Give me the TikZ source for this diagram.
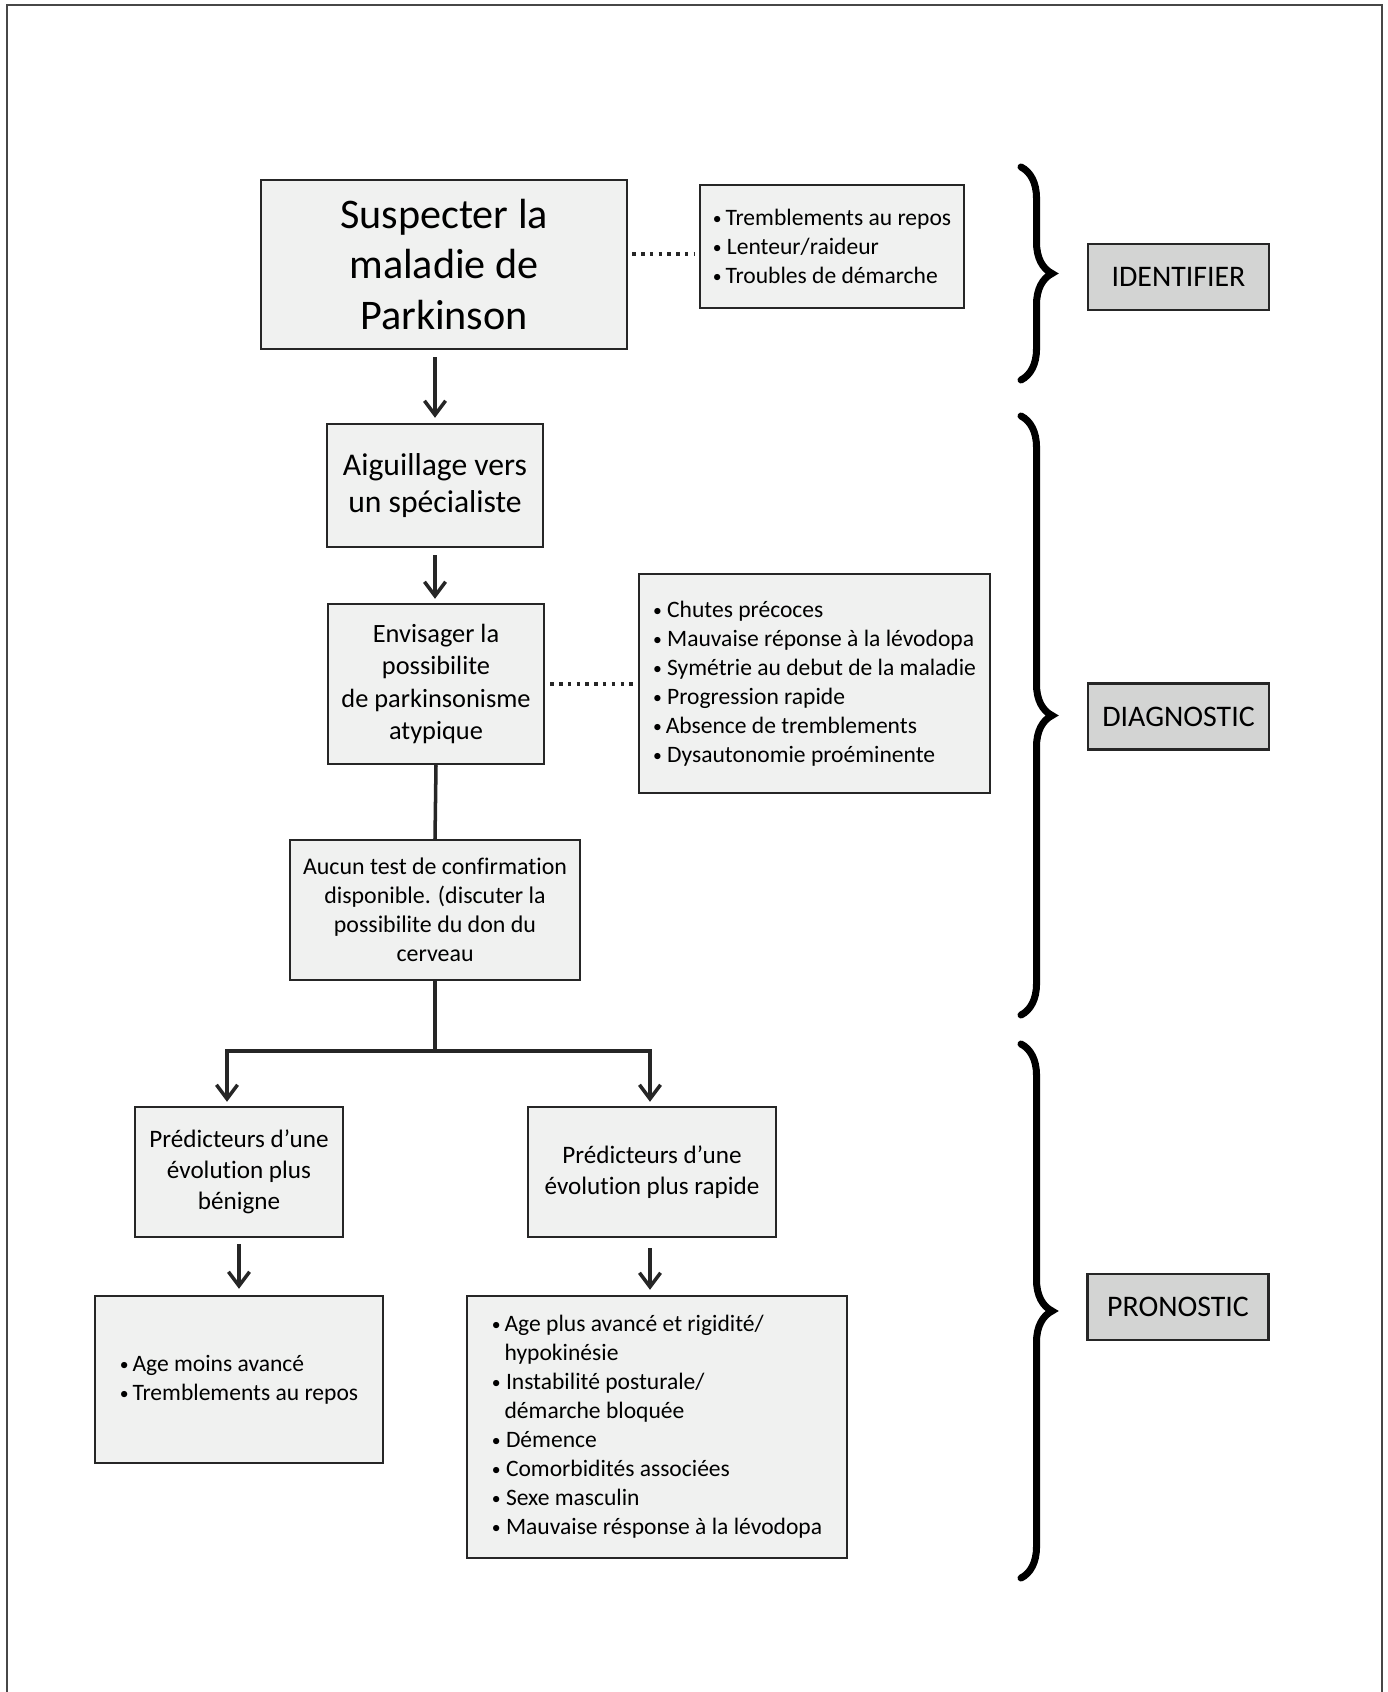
\documentclass[tikz,border=0pt]{standalone}
\usepackage{graphicx}
\usepackage{fontspec}
\setmainfont{Carlito}[Ligatures=NoCommon]
\usetikzlibrary{arrows.meta,positioning,decorations.pathreplacing}
\definecolor{boxgray}{HTML}{F0F1F0}
\definecolor{phasegray}{HTML}{D3D4D3}
\definecolor{edgegray}{HTML}{262626}
\newcommand{\blt}{\raisebox{0.1ex}{\scalebox{0.75}{\textbullet}}}

\begin{document}
\begin{tikzpicture}[
  box/.style={draw=edgegray,line width=1.4pt,fill=boxgray,align=center,inner sep=2pt},
  listbox/.style={box,align=left},
  phase/.style={draw=edgegray,line width=1.2pt,fill=phasegray,minimum width=3.62cm,
                minimum height=1.32cm,font=\fontsize{17}{20}\selectfont},
  arr/.style={-{Straight Barb[length=8pt,width=12pt,line width=2pt]},line width=2pt,edgegray},
  link/.style={line width=2pt,edgegray},
  dots/.style={line width=2pt,dash pattern=on 2pt off 3pt,edgegray},
  brc/.style={decorate,decoration={brace,amplitude=0.62cm},line width=4pt,line cap=round},
  big/.style={font=\fontsize{24}{28.7}\selectfont},
  mid/.style={font=\fontsize{18}{21.4}\selectfont},
  small/.style={font=\fontsize{13.4}{16.5}\selectfont},
]
\useasboundingbox (0,0) rectangle (27.74,-33.84);

%% ===== Frame =================================================================
\draw[line width=1.3pt,edgegray!85] (0.14,-33.84) -- (0.14,-0.10) -- (27.64,-0.10) -- (27.64,-33.84);

%% ===== Identifier ============================================================
\node[box,big,minimum width=7.32cm,minimum height=3.38cm] (suspect) at (8.88,-5.29)
  {Suspecter la\\ maladie de\\ Parkinson};
\node[listbox,small,minimum width=5.28cm,minimum height=2.46cm] (identlist) at (16.64,-4.93)
  {\blt\,Tremblements au repos\\ \blt\ Lenteur/raideur\\ \blt\,Troubles de démarche};
\draw[dots,shorten <=0.08cm,shorten >=0.08cm] ([yshift=-0.15cm]identlist.west -| suspect.east)
  -- ([yshift=-0.15cm]identlist.west);

%% ===== Diagnostic ============================================================
\node[box,mid,minimum width=4.32cm,minimum height=2.46cm] (aig) at (8.70,-9.71)
  {Aiguillage vers\\ un spécialiste};
\node[box,font=\fontsize{15}{18.4}\selectfont,minimum width=4.32cm,minimum height=3.20cm]
  (envisager) at (8.72,-13.68)
  {Envisager la\\ possibilite\\ de parkinsonisme\\ atypique};
\node[listbox,small,minimum width=7.02cm,minimum height=4.38cm] (diaglist) at (16.29,-13.67)
  {\blt\ Chutes précoces\\ \blt\ Mauvaise réponse à la lévodopa\\
   \blt\ Symétrie au debut de la maladie\\ \blt\ Progression rapide\\
   \blt\,Absence de tremblements\\ \blt\ Dysautonomie proéminente};
\node[box,font=\fontsize{13.6}{16.5}\selectfont,minimum width=5.80cm,minimum height=2.80cm]
  (aucun) at (8.70,-18.20)
  {Aucun test de confirmation\\ disponible. (discuter la\\ possibilite du don du\\ cerveau};

\draw[arr,shorten <=0.14cm,shorten >=0.1cm] (aig.north |- suspect.south) -- (aig.north);
\draw[arr,shorten <=0.14cm,shorten >=0.08cm] (aig.south) -- (aig.south |- envisager.north);
\draw[link] (envisager.south) -- (aucun.north);
\draw[dots,shorten <=0.1cm,shorten >=0.08cm] (envisager.east) -- (envisager.east -| diaglist.west);

%% ===== Pronostic =============================================================
\node[box,font=\fontsize{14.3}{17.7}\selectfont,minimum width=4.16cm,minimum height=2.60cm]
  (benigne) at (4.78,-23.44) {Prédicteurs d’une\\ évolution plus\\ bénigne};
\node[box,font=\fontsize{14.3}{17.7}\selectfont,minimum width=4.96cm,minimum height=2.60cm]
  (rapide) at (13.04,-23.44) {Prédicteurs d’une\\ évolution plus rapide};
\node[listbox,small,minimum width=5.76cm,minimum height=3.34cm] (benlist) at (4.78,-27.59)
  {\blt\,Age moins avancé\\ \blt\,Tremblements au repos};
\node[listbox,small,minimum width=7.60cm,minimum height=5.24cm] (rapidlist) at (13.14,-28.54)
  {\blt\,Age plus avancé et rigidité/\\ \phantom{\blt\,}hypokinésie\\
   \blt\ Instabilité posturale/\\ \phantom{\blt\,}démarche bloquée\\
   \blt\ Démence\\ \blt\ Comorbidités associées\\
   \blt\ Sexe masculin\\ \blt\ Mauvaise résponse à la lévodopa};

\coordinate (split) at (aucun.south |- 0,-21.02);
\coordinate (lsplit) at (4.54,-21.02);
\coordinate (rsplit) at (13.00,-21.02);
\draw[link] (aucun.south) -- (split);
\draw[link,line cap=rect] (lsplit) -- (rsplit);
\draw[arr,shorten >=0.08cm] (lsplit) -- (lsplit |- benigne.north);
\draw[arr,shorten >=0.08cm] (rsplit) -- (rsplit |- rapide.north);
\draw[arr,shorten <=0.12cm,shorten >=0.12cm] (benlist.north |- benigne.south) -- (benlist.north);
\draw[arr,shorten <=0.2cm,shorten >=0.1cm] (rsplit |- rapide.south) -- (rsplit |- rapidlist.north);

%% ===== Phases ================================================================
\node[phase] (identifier) at (23.57,-5.54) {IDENTIFIER};
\node[phase] (diagnostic) at (23.57,-14.33) {DIAGNOSTIC};
\node[phase] (pronostic) at (23.56,-26.14) {PRONOSTIC};

\draw[brc] (20.42,-3.34) -- (20.42,-7.60);
\draw[brc] (20.42,-8.32) -- (20.42,-20.30);
\draw[brc] (20.42,-20.88) -- (20.42,-31.56);

\end{tikzpicture}
\end{document}
